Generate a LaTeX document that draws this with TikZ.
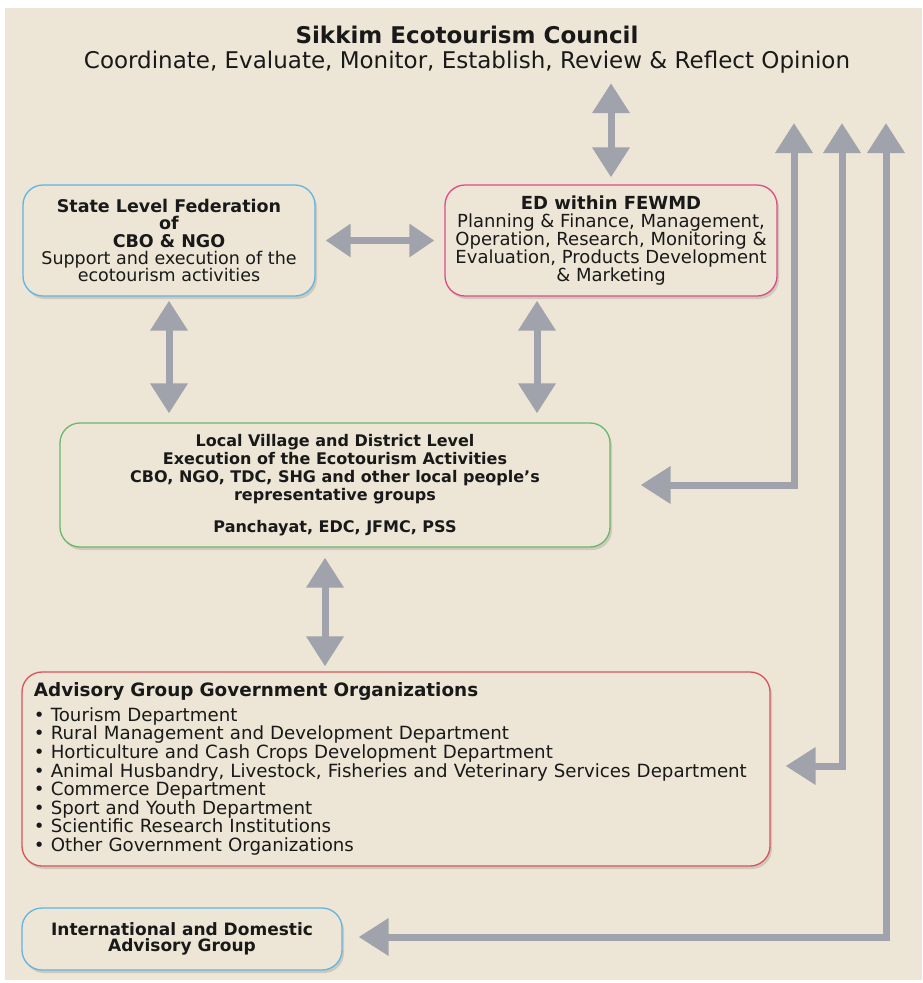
\documentclass[tikz,border=0pt]{standalone}
\usepackage{fontspec}
\setmainfont{DejaVu Sans}
\usetikzlibrary{
	arrows.meta,
	calc,
	positioning,
	shadows,
}
\definecolor{paper}{RGB}{237,230,214}
\definecolor{arrowgray}{RGB}{160,163,172}
\definecolor{ink}{RGB}{25,25,25}
\definecolor{boxblue}{RGB}{95,182,225}
\definecolor{boxpink}{RGB}{222,75,135}
\definecolor{boxgreen}{RGB}{105,185,105}
\definecolor{boxred}{RGB}{215,85,90}
\tikzset{default box/.style={draw,rounded corners=20pt,line width=1.3pt,inner sep=0pt,text=ink,align=center,fill=paper,
	drop shadow={shadow xshift=2pt,shadow yshift=-3pt,opacity=0.22,fill=black!60}}}
\tikzset{conn/.style={draw=arrowgray,line width=7pt,{Triangle[length=30pt,width=36pt]}-{Triangle[length=30pt,width=36pt]}}}
\tikzset{small conn/.style={conn,{Triangle[length=25pt,width=32pt]}-{Triangle[length=25pt,width=32pt]}}}

\begin{document}
\begin{tikzpicture}[x=1pt,y=-1pt]

\useasboundingbox (0,0) rectangle (922,983);
\fill[white] (0,0) rectangle (922,983);
\fill[paper] (5,8) rectangle (922,980);

% council on top
\node[text=ink,align=center,font=\fontsize{23}{25}\selectfont] (council) at (467,50)
	{{\fontsize{23}{25}\selectfont\textbf{Sikkim Ecotourism Council}}\\Coordinate, Evaluate, Monitor, Establish, Review \& Reflect Opinion};

% boxes
\node[default box,draw=boxblue,minimum width=292pt,minimum height=111pt,font=\fontsize{17.5}{17.2}\selectfont] (slf) at (169,240.5)
	{\textbf{State Level Federation}\\\textbf{of}\\\textbf{CBO \& NGO}\\Support and execution of the\\ecotourism activities};

\node[default box,draw=boxpink,minimum width=332pt,minimum height=111pt,font=\fontsize{18}{18.2}\selectfont] (ed) at (611,240.5)
	{\textbf{ED within FEWMD}\\Planning \& Finance, Management,\\Operation, Research, Monitoring \&\\Evaluation, Products Development\\\& Marketing};

\node[default box,draw=boxgreen,minimum width=550pt,minimum height=124pt,font=\bfseries\fontsize{16}{18}\selectfont] (local) at (335,485)
	{Local Village and District Level\\Execution of the Ecotourism Activities\\CBO, NGO, TDC, SHG and other local people's\\representative groups\\[14pt]Panchayat, EDC, JFMC, PSS};

\node[default box,draw=boxred,minimum width=748pt,minimum height=194pt,text width=724pt,align=left,font=\fontsize{18.2}{18.6}\selectfont] (adv) at (396,769)
	{{\fontsize{18.4}{18.6}\selectfont\textbf{Advisory Group Government Organizations}}\\[6pt]
	\textbullet\ Tourism Department\\
	\textbullet\ Rural Management and Development Department\\
	\textbullet\ Horticulture and Cash Crops Development Department\\
	\textbullet\ Animal Husbandry, Livestock, Fisheries and Veterinary Services Department\\
	\textbullet\ Commerce Department\\
	\textbullet\ Sport and Youth Department\\
	\textbullet\ Scientific Research Institutions\\
	\textbullet\ Other Government Organizations};

\node[default box,draw=boxblue,minimum width=320pt,minimum height=62pt,font=\bfseries\fontsize{17}{16.5}\selectfont] (intl) at (182,939)
	{International and Domestic\\Advisory Group};

% free ends of the three return lines
\coordinate (top1) at (794,123);
\coordinate (top2) at (842,123);
\coordinate (top3) at (886,123);

% double arrows between boxes
\draw[conn,shorten <=6pt,shorten >=7pt] (ed.north |- council.south) -- (ed.north);
\draw[small conn,shorten <=10pt,shorten >=10pt] (slf.east) -- (ed.west);
\draw[conn,shorten <=4pt,shorten >=9pt] (slf.south) -- (slf.south |- local.north);
\draw[conn,shorten <=4pt,shorten >=9pt] ([xshift=-74pt]ed.south) -- ([xshift=-74pt]ed.south |- local.north);
\draw[conn,shorten <=10pt,shorten >=5pt] ([xshift=-10pt]local.south) -- ([xshift=-10pt]local.south |- adv.north);

% return lines on the right
\draw[conn,shorten >=30pt] (top1) |- (local.east);
\draw[conn,shorten >=15pt] (top2) |- ([yshift=3pt]adv.east);
\draw[conn,shorten >=16pt] (top3) |- ([yshift=2pt]intl.east);

\end{tikzpicture}
\end{document}
